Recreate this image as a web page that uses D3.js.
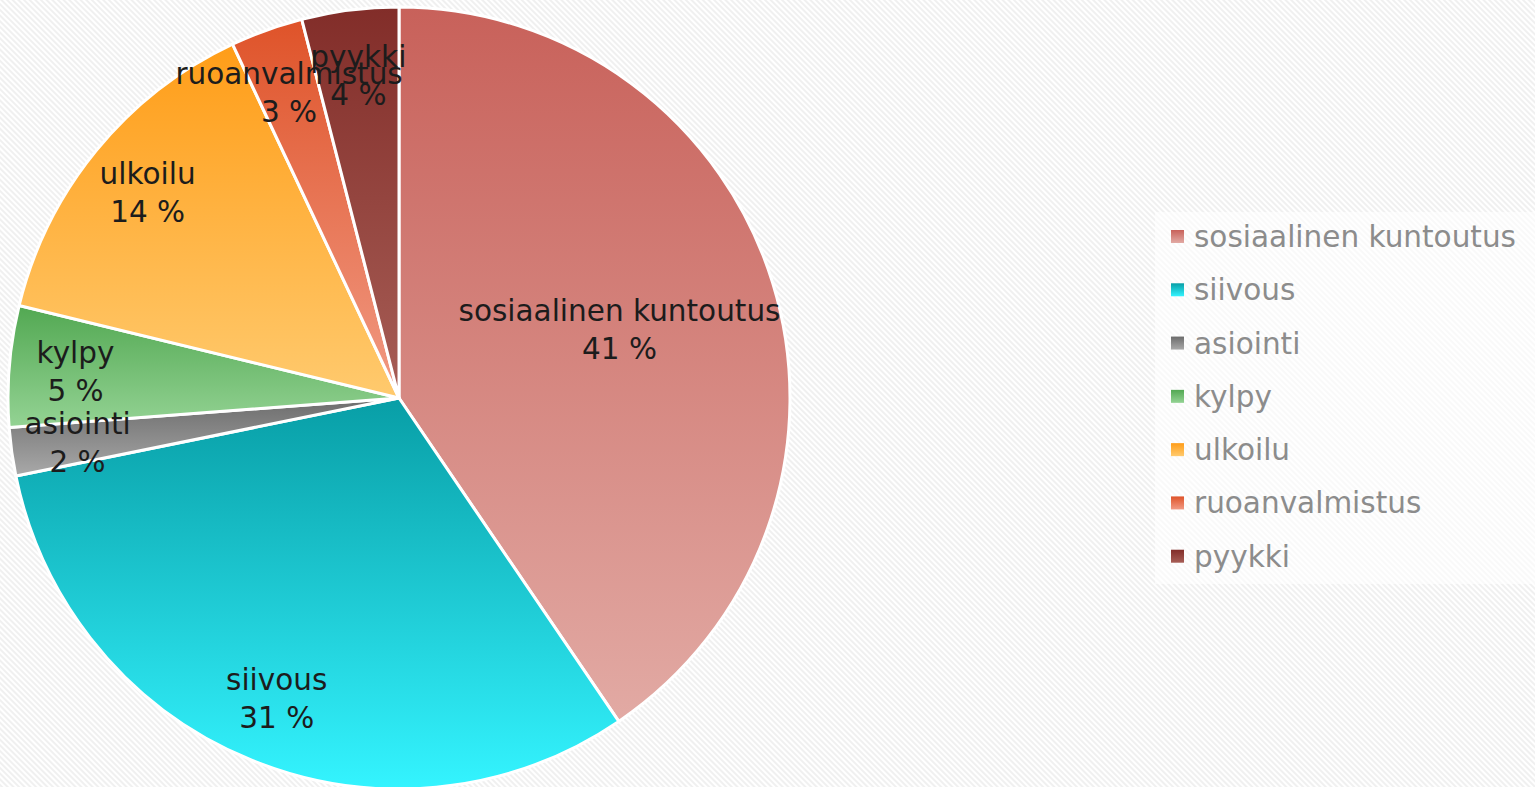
<!DOCTYPE html>
<html>
<head>
<meta charset="utf-8">
<script src="https://cdn.jsdelivr.net/npm/d3@7"></script>
<style>
  html, body { margin: 0; padding: 0; background: #fff; }
  #chart { width: 1535px; height: 787px; }
</style>
</head>
<body>
<div id="chart"></div>
<script>
// slice order goes clockwise from 12 o'clock
const categories = ["sosiaalinen kuntoutus", "siivous", "asiointi", "kylpy", "ulkoilu", "ruoanvalmistus", "pyykki"];
const shares = [40.5, 31.3, 2.0, 5.0, 14.2, 3.0, 4.0];
const topColors = ["#c8615a", "#089ea6", "#6c6c6c", "#52a852", "#ff9d18", "#df5329", "#822d29"];
const bottomColors = ["#e2aaa4", "#34f4ff", "#a9a9a9", "#94d394", "#ffca6e", "#f19a84", "#a75e56"];

const width = 1535, height = 787;
const cx = 399, cy = 398, radius = 391;

const svg = d3.select("#chart").append("svg")
  .attr("width", width)
  .attr("height", height);

const defs = svg.append("defs");

// hatched background
const hatch = defs.append("pattern")
  .attr("id", "hatch")
  .attr("width", 4)
  .attr("height", 4)
  .attr("patternUnits", "userSpaceOnUse")
  .attr("patternTransform", "rotate(-45)");
hatch.append("rect").attr("width", 4).attr("height", 4).attr("fill", "#ffffff");
hatch.append("rect").attr("width", 2).attr("height", 4).attr("fill", "#f0f0f0");

svg.append("rect")
  .attr("width", width)
  .attr("height", height)
  .attr("fill", "url(#hatch)");

categories.forEach((c, i) => {
  const g = defs.append("linearGradient")
    .attr("id", "grad" + i)
    .attr("x1", 0).attr("y1", 0)
    .attr("x2", 0).attr("y2", 1);
  g.append("stop").attr("offset", "0%").attr("stop-color", topColors[i]);
  g.append("stop").attr("offset", "100%").attr("stop-color", bottomColors[i]);
});

const data = categories.map((c, i) => ({ name: c, value: shares[i], idx: i }));
const total = d3.sum(shares);

const pie = d3.pie()
  .value(d => d.value)
  .sort(null);

const arc = d3.arc()
  .innerRadius(0)
  .outerRadius(radius);

const arcs = pie(data);

const chartG = svg.append("g")
  .attr("transform", `translate(${cx}, ${cy})`);

chartG.selectAll(".slice")
  .data(arcs)
  .enter()
  .append("path")
  .attr("class", "slice")
  .attr("d", arc)
  .attr("fill", d => `url(#grad${d.data.idx})`)
  .attr("stroke", "#ffffff")
  .attr("stroke-width", 3)
  .attr("stroke-linejoin", "round");

// best-fit style labels: big slice keeps label inside, small ones near the rim
const labelArcInner = d3.arc().innerRadius(radius * 0.59).outerRadius(radius * 0.59);
const labelArcOuter = d3.arc().innerRadius(radius * 0.83).outerRadius(radius * 0.83);

const labels = chartG.selectAll(".pie-label")
  .data(arcs)
  .enter()
  .append("text")
  .attr("class", "pie-label")
  .attr("text-anchor", "middle")
  .style("font-family", "'DejaVu Sans', sans-serif")
  .style("font-size", "29.5px")
  .attr("fill", "#1c1c1c")
  .attr("transform", d => {
    const big = (d.endAngle - d.startAngle) > 2;
    const p = big ? labelArcInner.centroid(d) : labelArcOuter.centroid(d);
    return `translate(${p[0]}, ${p[1]})`;
  });

labels.append("tspan")
  .attr("x", 0)
  .attr("y", -9)
  .text(d => d.data.name);

labels.append("tspan")
  .attr("x", 0)
  .attr("y", 29)
  .text(d => Math.round(d.data.value / total * 100) + " %");

// legend
const legend = svg.append("g")
  .attr("transform", "translate(1155, 212)");

legend.append("rect")
  .attr("width", 380)
  .attr("height", 372)
  .attr("fill", "#ffffff")
  .attr("opacity", 0.6);

const rowY = d3.scaleBand()
  .domain(categories)
  .range([0, 373]);

const rows = legend.selectAll(".legend-row")
  .data(data)
  .enter()
  .append("g")
  .attr("class", "legend-row")
  .attr("transform", d => `translate(0, ${rowY(d.name) + 35})`);

rows.append("rect")
  .attr("x", 16)
  .attr("y", -17)
  .attr("width", 13)
  .attr("height", 13)
  .attr("fill", d => `url(#grad${d.idx})`);

rows.append("text")
  .attr("x", 39)
  .attr("y", 0)
  .style("font-family", "'DejaVu Sans', sans-serif")
  .style("font-size", "29.5px")
  .attr("fill", "#8c8c8c")
  .text(d => d.name);
</script>
</body>
</html>
